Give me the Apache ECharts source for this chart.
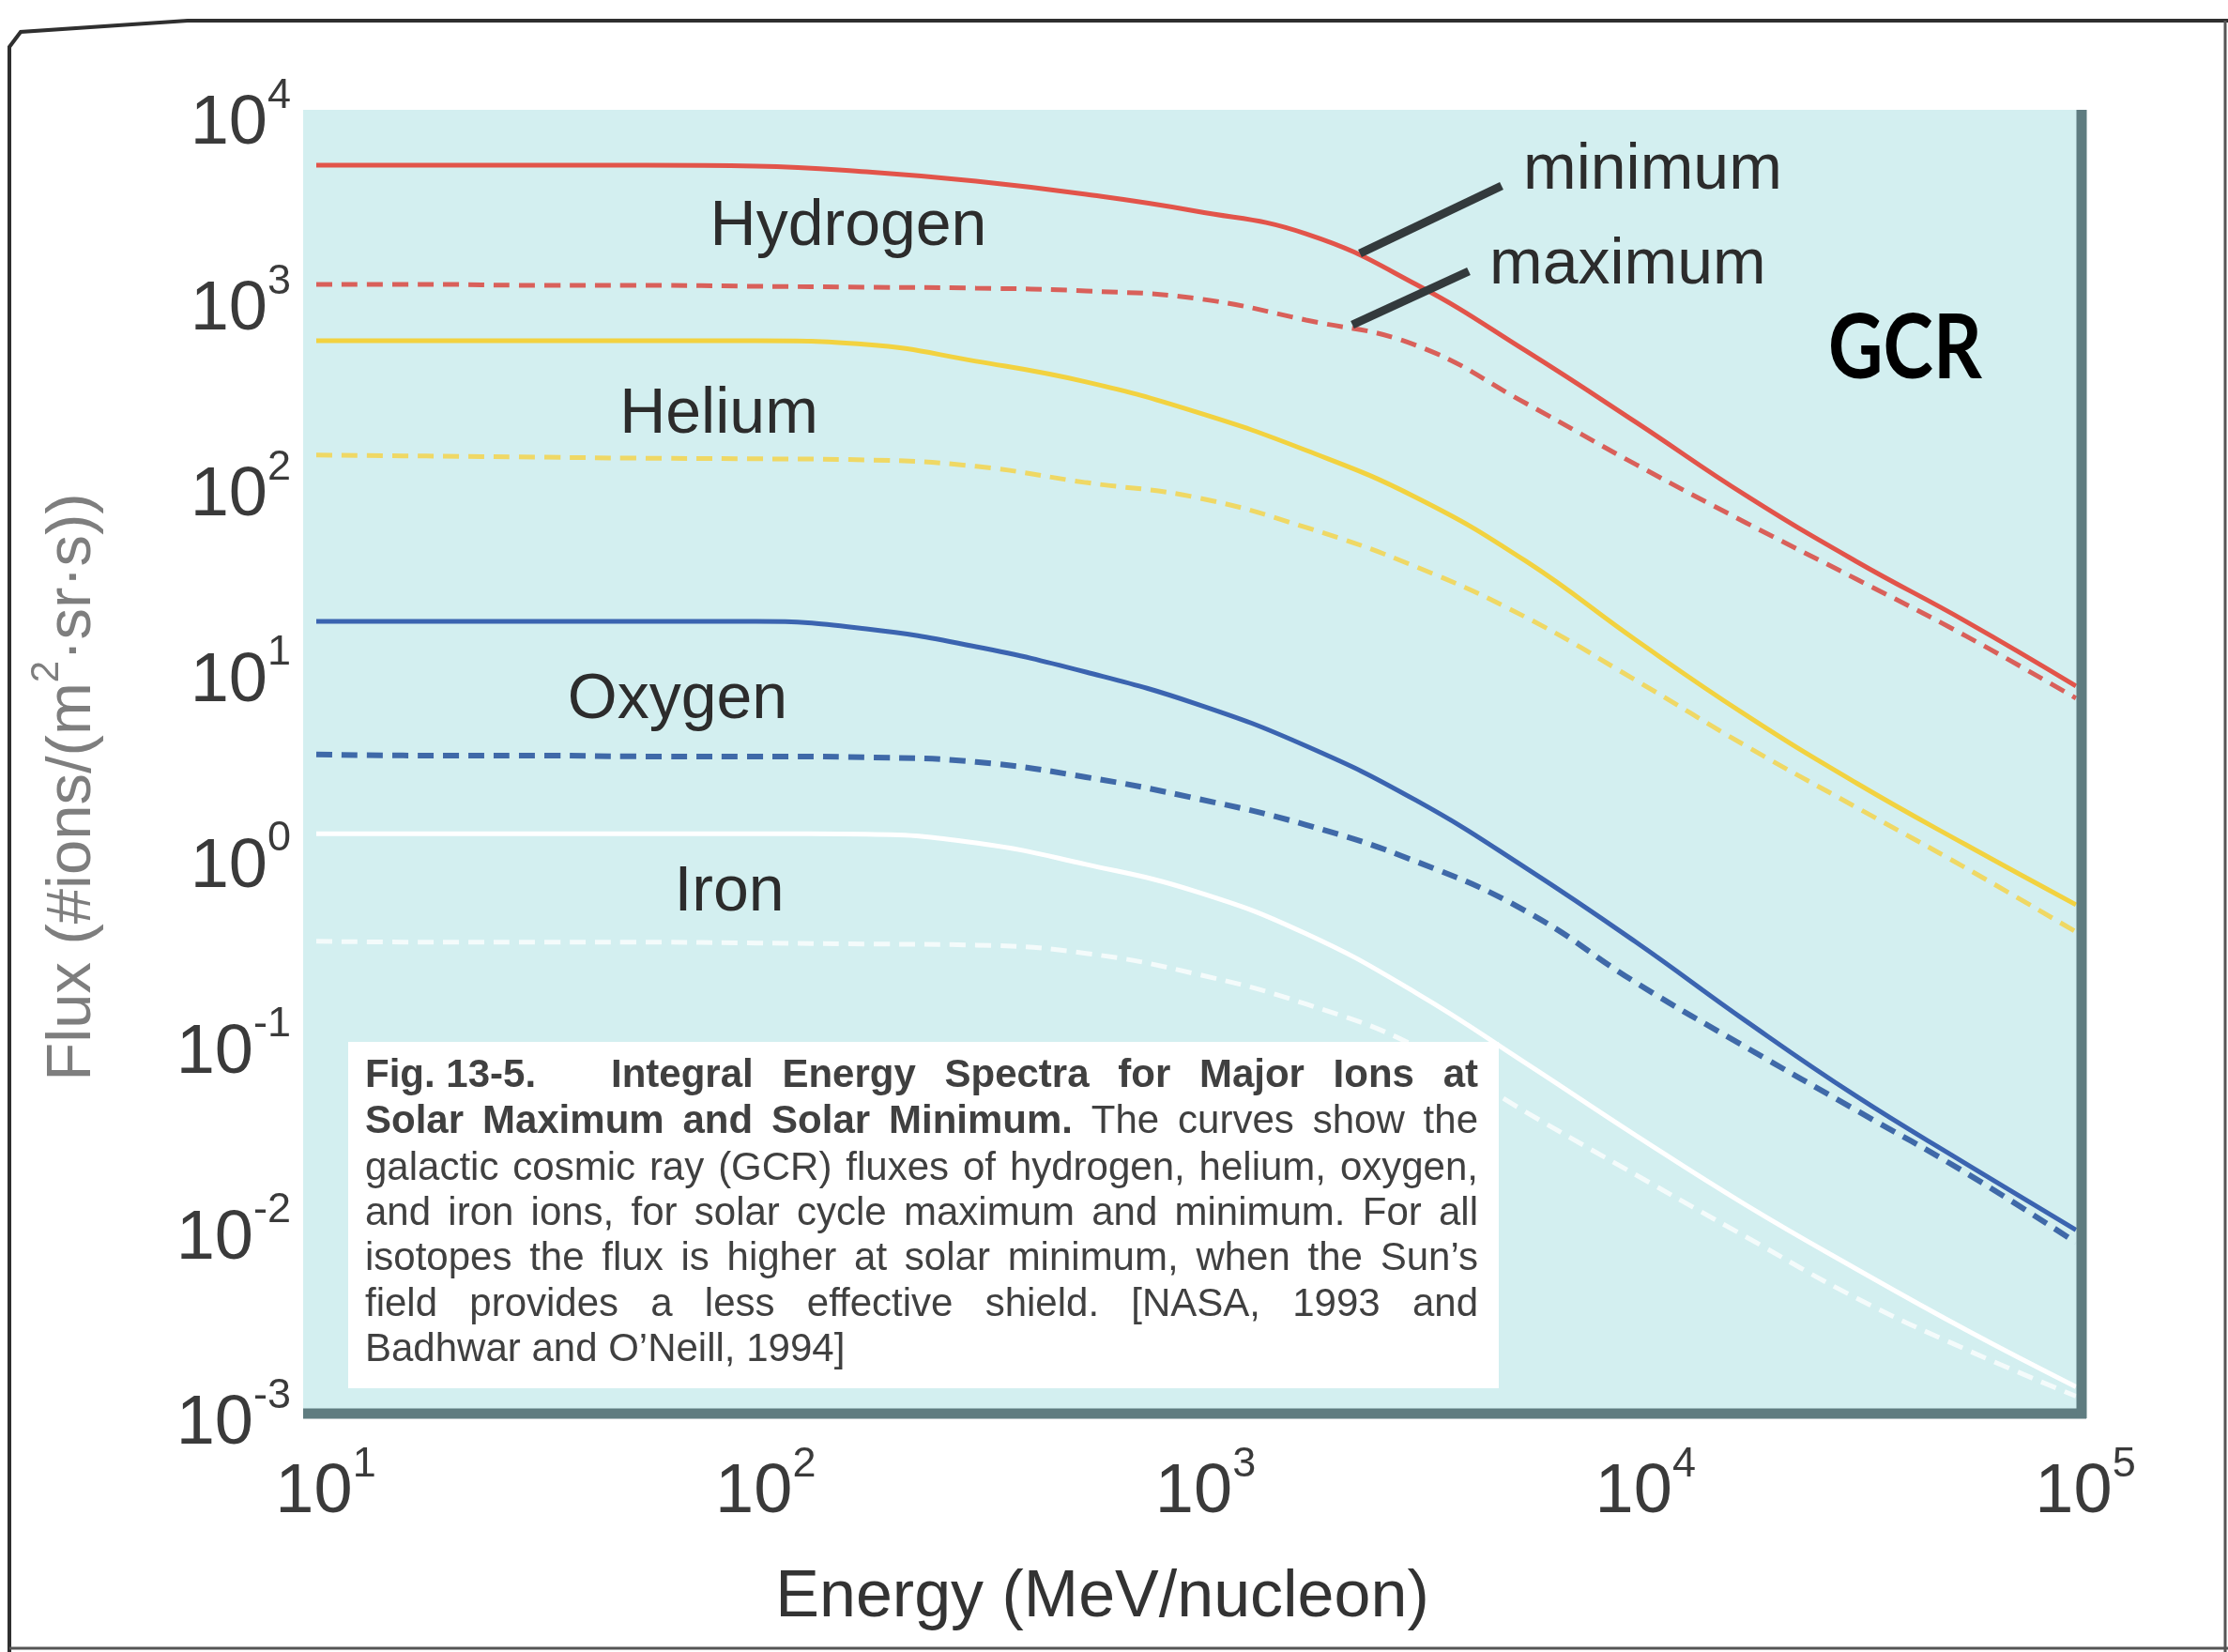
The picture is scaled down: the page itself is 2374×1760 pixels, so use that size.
<!DOCTYPE html>
<html><head><meta charset="utf-8">
<script src="https://cdn.jsdelivr.net/npm/echarts@6/dist/echarts.min.js"></script>
<style>html,body{margin:0;padding:0;background:#fff}#c{width:2374px;height:1760px}</style>
</head><body><div id="c"></div>
<script>
// ---- data ----
const energy      = [10, 17.8, 31.6, 56.2, 100, 178, 316, 562, 1000, 1778, 3162, 5623, 10000, 17783, 31623, 56234, 100000]; // MeV/nucleon
const hydrogenMin = [5520, 5520, 5520, 5520, 5460, 5090, 4530, 3850, 3125, 2360, 1260, 552, 228, 91.9, 40.7, 19.3, 8.67];
const hydrogenMax = [1261, 1261, 1246, 1246, 1231, 1217, 1203, 1162, 1059, 810, 592, 288, 135, 65.6, 32.7, 16.1, 7.45];
const heliumMin   = [627, 627, 627, 627, 627, 599, 486, 376, 259, 161, 89.8, 40.7, 15.3, 6.04, 2.61, 1.21, 0.576];
const heliumMax   = [152, 150, 148, 146, 145, 143, 132, 108, 89.8, 61.9, 38.0, 20.3, 9.29, 4.12, 1.93, 0.907, 0.411];
const oxygenMin   = [19.3, 19.3, 19.3, 19.3, 19.3, 17.6, 14.1, 10.3, 6.95, 4.12, 2.10, 0.907, 0.362, 0.136, 0.0537, 0.0232, 0.0102];
const oxygenMax   = [3.71, 3.66, 3.66, 3.62, 3.62, 3.58, 3.38, 2.80, 2.15, 1.55, 0.984, 0.531, 0.219, 0.0983, 0.0451, 0.0207, 0.00874];
const ironMin     = [1.39, 1.39, 1.39, 1.39, 1.39, 1.38, 1.24, 0.950, 0.678, 0.402, 0.193, 0.0806, 0.0329, 0.0139, 0.00631, 0.00296, 0.00146];
const ironMax     = [0.366, 0.362, 0.362, 0.362, 0.358, 0.354, 0.349, 0.315, 0.244, 0.168, 0.0994, 0.0440, 0.0202, 0.00937, 0.00440, 0.00232, 0.0013];
const seriesNames = ['Hydrogen', 'Helium', 'Oxygen', 'Iron'];
const captionText = [
  [['Fig. 13-5.', true], ['Integral', true], ['Energy', true], ['Spectra', true], ['for', true], ['Major', true], ['Ions', true], ['at', true]],
  [['Solar', true], ['Maximum', true], ['and', true], ['Solar', true], ['Minimum.', true], ['The', false], ['curves', false], ['show', false], ['the', false]],
  [['galactic', false], ['cosmic', false], ['ray', false], ['(GCR)', false], ['fluxes', false], ['of', false], ['hydrogen,', false], ['helium,', false], ['oxygen,', false]],
  [['and', false], ['iron', false], ['ions,', false], ['for', false], ['solar', false], ['cycle', false], ['maximum', false], ['and', false], ['minimum.', false], ['For', false], ['all', false]],
  [['isotopes', false], ['the', false], ['flux', false], ['is', false], ['higher', false], ['at', false], ['solar', false], ['minimum,', false], ['when', false], ['the', false], ['Sun\u2019s', false]],
  [['field', false], ['provides', false], ['a', false], ['less', false], ['effective', false], ['shield.', false], ['[NASA,', false], ['1993', false], ['and', false]],
  [['Badhwar', false], ['and', false], ['O\u2019Neill,', false], ['1994]', false]]
];

const FONT = '"Liberation Sans", Arial, Helvetica, sans-serif';
const pairs = vals => energy.map((e, i) => [e, vals[i]]);
const supFmt = v => '{b|10}{s|' + Math.round(Math.log10(v)) + '}';
const tickRich = {
  b: {fontSize: 74, lineHeight: 90, verticalAlign: 'bottom', fontFamily: FONT, color: '#3a3a3a'},
  s: {fontSize: 45, lineHeight: 45, verticalAlign: 'top', fontFamily: FONT, color: '#3a3a3a'}
};

function line(name, vals, color, dashed, width) {
  return {
    name, type: 'line', data: pairs(vals), symbol: 'none', showSymbol: false,
    smooth: 0.45, silent: true, z: 3,
    lineStyle: {color, width: width || 5, type: dashed ? [17, 10] : 'solid', cap: 'butt'}
  };
}

// ---- caption layout (justified words) ----
const capFs = 42, capLeft = 389, capRight = 1575;
const capY = [1146, 1195, 1245, 1293, 1341, 1390, 1438];
const mctx = document.createElement('canvas').getContext('2d');
const captionEls = [];
captionText.forEach((words, li) => {
  const ws = words.map(([t, b]) => { mctx.font = (b ? 'bold ' : '') + capFs + 'px ' + FONT; return mctx.measureText(t).width; });
  const put = (i, x) => captionEls.push({
    type: 'text', x, y: capY[li], z: 12, silent: true,
    style: {text: words[i][0], fontSize: capFs, fontFamily: FONT, fontWeight: words[i][1] ? 'bold' : 'normal',
            fill: '#404040', align: 'left', verticalAlign: 'middle'}
  });
  let idx0 = 0, start = capLeft;
  if (li === 0) { put(0, capLeft); idx0 = 1; start = 651; }
  const rest = ws.slice(idx0);
  const total = rest.reduce((a, b) => a + b, 0);
  const justify = li < captionText.length - 1;
  mctx.font = capFs + 'px ' + FONT;
  const gap = justify ? (capRight - start - total) / (rest.length - 1) : mctx.measureText(' ').width;
  let x = start;
  for (let i = idx0; i < words.length; i++) { put(i, x); x += ws[i] + gap; }
});

const labelStyle = (text, extra) => Object.assign({text, fontSize: 68, fontFamily: FONT, fill: '#2c2c2c', align: 'center', verticalAlign: 'middle'}, extra || {});

const chart = echarts.init(document.getElementById('c'), null, {renderer: 'canvas'});
chart.setOption({
  animation: false,
  backgroundColor: '#ffffff',
  grid: {left: 337, top: 125, width: 1875, height: 1385, containLabel: false},
  xAxis: {
    type: 'log', logBase: 10, min: 10, max: 100000,
    axisLine: {show: false}, axisTick: {show: false}, splitLine: {show: false}, minorTick: {show: false},
    axisLabel: {formatter: supFmt, rich: tickRich, margin: 28, padding: [0, 0, 0, 20]},
    name: 'Energy (MeV/nucleon)', nameLocation: 'middle', nameGap: 158,
    nameTextStyle: {fontSize: 70, fontFamily: FONT, color: '#333333', padding: [0, 200, 0, 0]}
  },
  yAxis: {
    type: 'log', logBase: 10, min: 0.001, max: 10000,
    axisLine: {show: false}, axisTick: {show: false}, splitLine: {show: false}, minorTick: {show: false},
    axisLabel: {formatter: supFmt, rich: tickRich, margin: 27},
    name: '{n|Flux (#ions/(m}{p|2}{n|\u00b7sr\u00b7s))}', nameLocation: 'middle', nameGap: 226, nameRotate: 90,
    nameTextStyle: {
      padding: [0, 42, 0, 0],
      rich: {
        n: {fontSize: 67, fontFamily: FONT, color: '#7e7e7e', lineHeight: 82, verticalAlign: 'bottom'},
        p: {fontSize: 42, fontFamily: FONT, color: '#7e7e7e', lineHeight: 42, verticalAlign: 'top'}
      }
    }
  },
  graphic: {elements: [
    // plot background
    {type: 'rect', z: -5, silent: true, shape: {x: 323, y: 117, width: 1894, height: 1388}, style: {fill: '#d3eff0'}},
    // plot frame (right / bottom)
    {type: 'line', z: 6, silent: true, shape: {x1: 323, y1: 1506, x2: 2223, y2: 1506}, style: {stroke: '#5f7c80', lineWidth: 11}},
    {type: 'line', z: 6, silent: true, shape: {x1: 2218, y1: 117, x2: 2218, y2: 1511}, style: {stroke: '#5f7c80', lineWidth: 11}},
    // figure outer frame
    {type: 'polyline', z: 6, silent: true, shape: {points: [[10, 1760], [10, 50], [22, 34], [200, 22], [2374, 22]]}, style: {stroke: '#2f2f2f', lineWidth: 4, fill: null}},
    {type: 'line', z: 6, silent: true, shape: {x1: 2371, y1: 22, x2: 2371, y2: 1760}, style: {stroke: '#555', lineWidth: 3}},
    {type: 'line', z: 6, silent: true, shape: {x1: 10, y1: 1756, x2: 2374, y2: 1756}, style: {stroke: '#555', lineWidth: 3}},
    // species labels
    {type: 'text', z: 10, silent: true, x: 904, y: 242, style: labelStyle(seriesNames[0])},
    {type: 'text', z: 10, silent: true, x: 766, y: 442, style: labelStyle(seriesNames[1])},
    {type: 'text', z: 10, silent: true, x: 722, y: 746, style: labelStyle(seriesNames[2])},
    {type: 'text', z: 10, silent: true, x: 777, y: 951, style: labelStyle(seriesNames[3])},
    // minimum / maximum annotation
    {type: 'text', z: 10, silent: true, x: 1623, y: 182, style: labelStyle('minimum', {align: 'left'})},
    {type: 'text', z: 10, silent: true, x: 1587, y: 283, style: labelStyle('maximum', {align: 'left'})},
    {type: 'line', z: 10, silent: true, shape: {x1: 1600, y1: 198, x2: 1449, y2: 270}, style: {stroke: '#333a3c', lineWidth: 9}},
    {type: 'line', z: 10, silent: true, shape: {x1: 1565, y1: 289, x2: 1441, y2: 346}, style: {stroke: '#333a3c', lineWidth: 9}},
    // GCR
    {type: 'text', z: 10, silent: true, x: 1948, y: 372, scaleX: 0.84, style: {text: 'GCR', fontSize: 96, fontWeight: 'bold', fontFamily: 'Lato, "Open Sans", sans-serif', fill: '#000', align: 'left', verticalAlign: 'middle'}},
    // caption box
    {type: 'rect', z: 11, silent: true, shape: {x: 371, y: 1110, width: 1226, height: 369}, style: {fill: '#ffffff'}}
  ].concat(captionEls)},
  series: [
    line('Hydrogen minimum', hydrogenMin, '#e2544a', false),
    line('Hydrogen maximum', hydrogenMax, '#d9605a', true),
    line('Helium minimum',   heliumMin,   '#f2d240', false),
    line('Helium maximum',   heliumMax,   '#efd865', true),
    line('Oxygen minimum',   oxygenMin,   '#3b64b0', false),
    line('Oxygen maximum',   oxygenMax,   '#3f69a8', true, 6),
    line('Iron minimum',     ironMin,     '#ffffff', false),
    line('Iron maximum',     ironMax,     '#f4fbfb', true)
  ]
});
</script>
</body></html>
